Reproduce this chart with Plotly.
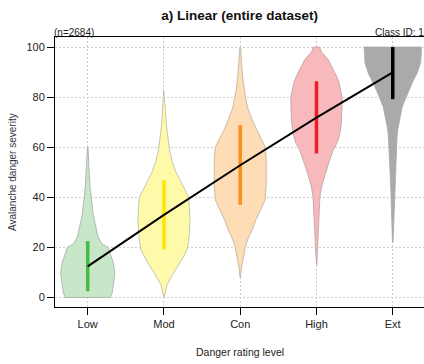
import plotly.graph_objects as go

categories = ["Low", "Mod", "Con", "High", "Ext"]

# violin density profiles: severity values and half-widths (in px at 76.25 px per category)
low_y = [0, 2, 6, 10, 14, 18, 20, 21.5, 24.5, 29, 33, 37, 44, 50.5, 57, 60]
low_w = [22.5, 24.5, 26, 27, 25.5, 22, 20.5, 14, 10, 7.7, 5.5, 4.4, 2.4, 1.4, 0.8, 0.3]
mod_y = [0, 2, 5, 8, 10, 13, 16, 19, 22, 26, 31, 36, 40, 43, 46, 50, 54, 58, 62, 66, 70, 75, 80, 82.5]
mod_w = [0.3, 1.2, 3, 7, 10, 15, 19, 23, 24.5, 25.5, 26, 25.5, 24.5, 21, 17, 12, 8.5, 6, 4.5, 3.2, 2.2, 1.3, 0.7, 0.2]
con_y = [8, 12, 16, 20, 23, 27, 31, 35, 39, 45, 50, 55, 60, 64, 67, 70, 73, 76, 80, 83, 88, 93, 97, 100]
con_w = [0.3, 1.2, 3.3, 5, 7.3, 12, 15.7, 20, 25, 26, 26, 26, 25, 20, 16, 13, 10, 7.3, 5.2, 4, 2.5, 1.3, 0.8, 0.4]
high_y = [13, 18, 23, 28, 32, 36, 40, 44, 48, 53, 57, 59, 62, 65.5, 70, 75, 80, 85.5, 88, 91, 95, 98, 100]
high_w = [0.3, 0.9, 1.3, 1.8, 2.2, 2.8, 3.4, 5, 7.7, 11.7, 15, 17, 21, 23.4, 25, 25.5, 25.7, 22.7, 20.5, 16.7, 11.7, 5, 3]
ext_y = [22, 28, 34, 40, 44, 50, 56, 60, 64, 67, 71, 74, 76, 78, 80, 82, 84, 87, 89.5, 93.5, 97, 100]
ext_w = [0.3, 0.8, 1.3, 1.7, 2, 2.7, 3.3, 3.7, 4.3, 5, 7, 8.5, 9.4, 11.3, 13.4, 15.5, 17.7, 21, 24.4, 27.7, 28.5, 28.7]

q_low = [2.5, 19.2, 37, 57.5, 79.2]
q_high = [22.5, 46.8, 68.8, 86.3, 100]
trend = [12.4, 33, 52.8, 71.8, 89.9]

fill_colors = ["#C8E6C8", "#FFFAAA", "#FDDCB6", "#F8B9BC", "#AAAAAA"]
bar_colors = ["#44BB44", "#FFE600", "#FF8C1A", "#EE1C25", "#000000"]
edge_colors = ["#A8A8A8", "#B8B8A0", "#B8B0A0", "#B8A0A0", "#AAAAAA"]

PX_PER_CAT = 76.25
profiles = [(low_y, low_w), (mod_y, mod_w), (con_y, con_w), (high_y, high_w), (ext_y, ext_w)]

fig = go.Figure()
for i, (ys, ws) in enumerate(profiles):
    c = i + 1
    xs_r = [c + w / PX_PER_CAT for w in ws]
    xs_l = [c - w / PX_PER_CAT for w in ws]
    px = xs_r + xs_l[::-1] + [xs_r[0]]
    py = list(ys) + list(ys)[::-1] + [ys[0]]
    fig.add_trace(go.Scatter(x=px, y=py, mode="lines", fill="toself",
                             fillcolor=fill_colors[i],
                             line=dict(color=edge_colors[i], width=0.8),
                             hoverinfo="skip", showlegend=False))

for i in range(len(categories)):
    fig.add_trace(go.Scatter(x=[i + 1, i + 1], y=[q_low[i], q_high[i]], mode="lines",
                             line=dict(color=bar_colors[i], width=3.5),
                             hoverinfo="skip", showlegend=False))

fig.add_trace(go.Scatter(x=list(range(1, 6)), y=trend, mode="lines",
                         line=dict(color="black", width=2), showlegend=False))

font = "Liberation Sans, Arial, sans-serif"
fig.update_layout(
    width=424, height=364,
    margin=dict(l=55, r=0, t=37, b=57, autoexpand=False),
    plot_bgcolor="white", paper_bgcolor="white",
    font=dict(family=font, size=11, color="#222222"),
    title=dict(text="<b>a) Linear (entire dataset)</b>", x=0.565, xanchor="center",
               y=1 - 15 / 364, yanchor="middle", font=dict(size=13.5, color="#111111")),
    xaxis=dict(range=[0.571, 5.41], tickmode="array", tickvals=[1, 2, 3, 4, 5],
               ticktext=categories, showline=True, linecolor="black", linewidth=1,
               mirror=True, ticks="outside", ticklen=7, tickcolor="black",
               showgrid=True, gridcolor="#CCCCCC", griddash="2px,2px", gridwidth=1,
               zeroline=False, tickfont=dict(size=11), automargin=False),
    yaxis=dict(range=[-3.8, 104], tickvals=[0, 20, 40, 60, 80, 100],
               showline=True, linecolor="black", linewidth=1,
               ticks="outside", ticklen=7, tickcolor="black",
               showgrid=True, gridcolor="#CCCCCC", griddash="2px,2px", gridwidth=1,
               zeroline=False, tickfont=dict(size=11), automargin=False),
    annotations=[
        dict(text="(n=2684)", xref="paper", yref="paper", x=0, y=1, xanchor="left",
             yanchor="bottom", showarrow=False, font=dict(size=10), yshift=-3, xshift=-3),
        dict(text="Class ID: 1", xref="paper", yref="paper", x=1, y=1, xanchor="right",
             yanchor="bottom", showarrow=False, font=dict(size=10), yshift=-3, xshift=2),
        dict(text="Danger rating level", xref="paper", yref="paper", x=0.5, y=0,
             xanchor="center", yanchor="middle", yshift=-45, showarrow=False,
             font=dict(size=10.5)),
        dict(text="Avalanche danger severity", xref="paper", yref="paper",
             x=0, y=0.5, xanchor="center", yanchor="middle", textangle=-90, xshift=-43,
             showarrow=False, font=dict(size=10, color="#333344")),
    ],
)

fig.write_html("out.html", config={"displayModeBar": False},
               post_script="document.body.style.margin='0';document.body.style.overflow='hidden';")
